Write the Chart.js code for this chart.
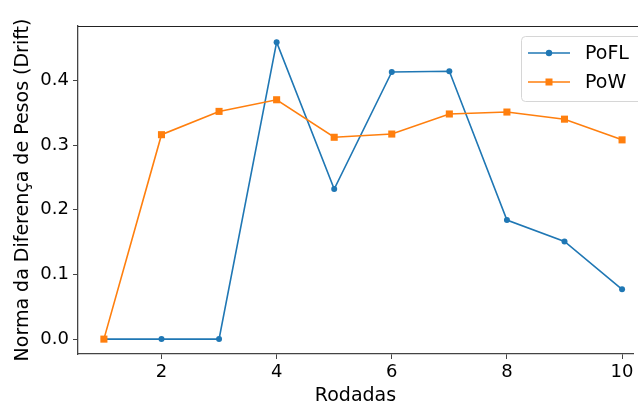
<!DOCTYPE html>
<html>
<head>
<meta charset="utf-8">
<script src="https://cdn.jsdelivr.net/npm/chart.js@4/dist/chart.umd.min.js"></script>
<style>
  html, body { margin: 0; padding: 0; background: #fff; }
  #wrap { width: 638px; height: 407px; }
</style>
</head>
<body>
<div id="wrap"><canvas id="dash"></canvas></div>
<script>
const rodadas = [1, 2, 3, 4, 5, 6, 7, 8, 9, 10];
const pofl = [0, 0, 0, 0.459, 0.232, 0.413, 0.414, 0.184, 0.151, 0.077];
const pow = [0, 0.316, 0.352, 0.370, 0.312, 0.317, 0.348, 0.351, 0.340, 0.308];
const xTicks = [2, 4, 6, 8, 10];
const yTicks = [0, 0.1, 0.2, 0.3, 0.4];

const FONT = "'DejaVu Sans', sans-serif";

// eixo superior + legenda no estilo matplotlib
const extras = {
  id: "extras",
  afterDraw(chart) {
    const ctx = chart.ctx;
    const a = chart.chartArea;
    ctx.save();
    ctx.strokeStyle = "#222";
    ctx.lineWidth = 1;
    ctx.beginPath();
    ctx.moveTo(a.left, a.top + 0.5);
    ctx.lineTo(chart.width, a.top + 0.5);
    ctx.stroke();

    // caixa da legenda
    const bx = 521, by = 36, bw = 130, bh = 65, r = 4;
    ctx.beginPath();
    ctx.roundRect(bx + 0.5, by + 0.5, bw, bh, r);
    ctx.fillStyle = "rgba(255,255,255,0.8)";
    ctx.fill();
    ctx.strokeStyle = "#d6d6d6";
    ctx.stroke();

    const rows = [
      { ds: chart.data.datasets[0], y: 53 },
      { ds: chart.data.datasets[1], y: 82 }
    ];
    rows.forEach(function (row) {
      const c = row.ds.borderColor;
      ctx.strokeStyle = c;
      ctx.lineWidth = 1.5;
      ctx.beginPath();
      ctx.moveTo(528, row.y);
      ctx.lineTo(570, row.y);
      ctx.stroke();
      ctx.fillStyle = c;
      if (row.ds.pointStyle === "rect") {
        ctx.fillRect(549 - 3.5, row.y - 3.5, 7, 7);
      } else {
        ctx.beginPath();
        ctx.arc(549, row.y, 3.2, 0, Math.PI * 2);
        ctx.fill();
      }
      ctx.fillStyle = "#000";
      ctx.font = "19px " + FONT;
      ctx.textBaseline = "middle";
      ctx.fillText(row.ds.label, 585, row.y + 1);
    });
    ctx.restore();
  }
};

new Chart(document.getElementById("dash"), {
  type: "line",
  data: {
    datasets: [
      {
        label: "PoFL",
        data: rodadas.map((x, i) => ({ x: x, y: pofl[i] })),
        borderColor: "#1f77b4",
        backgroundColor: "#1f77b4",
        borderWidth: 1.6,
        pointStyle: "circle",
        pointRadius: 3,
        pointBorderWidth: 0,
        order: 1
      },
      {
        label: "PoW",
        data: rodadas.map((x, i) => ({ x: x, y: pow[i] })),
        borderColor: "#ff7f0e",
        backgroundColor: "#ff7f0e",
        borderWidth: 1.6,
        pointStyle: "rect",
        pointRadius: 5,
        pointBorderWidth: 0,
        order: 0
      }
    ]
  },
  options: {
    responsive: true,
    maintainAspectRatio: false,
    animation: false,
    layout: { padding: { top: 26, right: 0, left: 0, bottom: 0 } },
    plugins: {
      legend: { display: false },
      tooltip: { enabled: false }
    },
    scales: {
      x: {
        type: "linear",
        min: 0.55,
        max: 10.19,
        afterBuildTicks: (s) => { s.ticks = xTicks.map(v => ({ value: v })); },
        afterFit: (s) => { s.height = 53; s.paddingLeft = 0; s.paddingRight = 0; },
        ticks: {
          color: "#000",
          font: { family: FONT, size: 18 },
          padding: 3,
          maxRotation: 0
        },
        grid: { display: true, drawOnChartArea: false, drawTicks: true, tickLength: 5, color: "#444" },
        border: { display: true, color: "#444", width: 1.3 },
        title: {
          display: true,
          text: "Rodadas",
          color: "#000",
          font: { family: FONT, size: 19 },
          padding: { top: 0, bottom: 0 }
        }
      },
      y: {
        type: "linear",
        min: -0.023,
        max: 0.484,
        afterBuildTicks: (s) => { s.ticks = yTicks.map(v => ({ value: v })); },
        afterFit: (s) => { s.width = 78; s.paddingTop = 0; s.paddingBottom = 0; },
        ticks: {
          color: "#000",
          font: { family: FONT, size: 18 },
          padding: 4,
          callback: (v) => v.toFixed(1)
        },
        grid: { display: true, drawOnChartArea: false, drawTicks: true, tickLength: 5, color: "#444" },
        border: { display: true, color: "#444", width: 1.3 },
        title: {
          display: true,
          text: "Norma da Diferença de Pesos (Drift)",
          color: "#000",
          font: { family: FONT, size: 19 },
          padding: { top: 12, bottom: 0 }
        }
      }
    }
  },
  plugins: [extras]
});
</script>
</body>
</html>
